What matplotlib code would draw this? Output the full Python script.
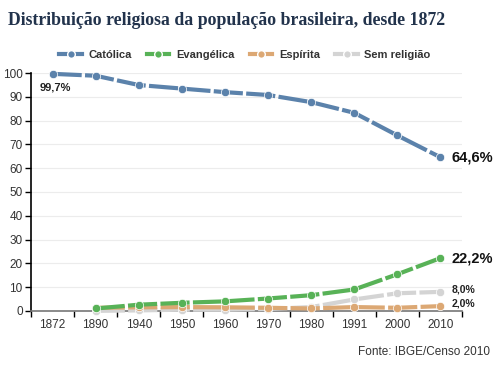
import numpy as np
import matplotlib
matplotlib.use("Agg")
import matplotlib.pyplot as plt
from matplotlib.lines import Line2D

# -------------------------
# Data
# -------------------------
anos = ["1872", "1890", "1940", "1950", "1960", "1970", "1980", "1991", "2000", "2010"]
catolica = [99.7, 98.9, 95.0, 93.5, 92.0, 90.8, 87.8, 83.3, 73.8, 64.6]
evangelica = [None, 1.0, 2.6, 3.4, 4.0, 5.2, 6.6, 9.0, 15.4, 22.2]
espirita = [None, 1.3, 1.5, 1.6, 1.5, 1.3, 1.0, 1.6, 1.3, 2.0]
sem_religiao = [None, 0.0, 0.2, 0.5, 0.5, 0.8, 1.6, 4.8, 7.4, 8.0]

series = [
    ("Católica", catolica, "#5b82ab"),
    ("Evangélica", evangelica, "#58b257"),
    ("Espírita", espirita, "#dca874"),
    ("Sem religião", sem_religiao, "#d4d4d4"),
]

plt.rcParams["font.family"] = ["Liberation Sans", "DejaVu Sans"]

fig = plt.figure(figsize=(5, 3.75), dpi=100)
ax = fig.add_axes([0.062, 0.171, 0.862, 0.634])

x = np.arange(len(anos))
dash = (7, 0.8)
# draw order: grey under the others, blue on top
order = [3, 2, 1, 0]
for i in order:
    name, vals, color = series[i]
    y = np.array([np.nan if v is None else v for v in vals], dtype=float)
    ax.plot(x, y, color=color, lw=3, dashes=dash, marker="o", markersize=6,
            markeredgecolor="white", markeredgewidth=0.5, clip_on=False,
            zorder=3 + (3 - i))

ax.set_xlim(-0.5, len(anos) - 0.5)
ax.set_ylim(0, 100)
ax.set_yticks(range(0, 101, 10))
ax.yaxis.grid(True, color="#ececec", lw=0.8)
ax.set_axisbelow(True)

# categorical labels centred, ticks on band boundaries
ax.set_xticks(x)
ax.set_xticklabels(anos)
ax.set_xticks(np.arange(-0.5, len(anos)), minor=True)
ax.tick_params(axis="x", which="major", length=0, labelsize=8.5, labelcolor="#333333", pad=6)
ax.tick_params(axis="x", which="minor", length=4, width=1, color="black", direction="out")
ax.tick_params(axis="y", length=4, width=1, labelsize=8.5, labelcolor="#333333", pad=2)

for s in ["top", "right"]:
    ax.spines[s].set_visible(False)
ax.spines["left"].set_color("black")
ax.spines["left"].set_linewidth(1.2)
ax.spines["bottom"].set_color("#777777")
ax.spines["bottom"].set_linewidth(1.2)

# value labels
ax.text(-0.3, 96.0, "99,7%", fontsize=8, fontweight="bold", color="#222222", va="top", ha="left")
ax.text(9.25, catolica[-1], "64,6%", fontsize=10.5, fontweight="bold", color="#111111", va="center", clip_on=False)
ax.text(9.25, evangelica[-1], "22,2%", fontsize=10.5, fontweight="bold", color="#111111", va="center", clip_on=False)
ax.text(9.25, sem_religiao[-1] + 1.2, "8,0%", fontsize=7.5, fontweight="bold", color="#222222", va="center", clip_on=False)
ax.text(9.25, espirita[-1] + 1.2, "2,0%", fontsize=7.5, fontweight="bold", color="#222222", va="center", clip_on=False)

# legend: short line, white-rimmed dot in the middle
handles = [Line2D([0], [0], color=c, lw=3, marker="o", markersize=5.5,
                  markeredgecolor="white", markeredgewidth=1.0) for _, _, c in series]
leg = fig.legend(handles, [s[0] for s in series], loc="center", bbox_to_anchor=(0.49, 0.853),
                 ncol=4, frameon=False, handlelength=2.0, handletextpad=0.6,
                 columnspacing=1.4, prop={"weight": "bold", "size": 8})
for t in leg.get_texts():
    t.set_color("#333333")

fig.text(0.016, 0.945, "Distribuição religiosa da população brasileira, desde 1872",
         fontsize=12.8, fontweight="bold", family="Liberation Serif", color="#22334c",
         ha="left", va="center")
fig.text(0.98, 0.062, "Fonte: IBGE/Censo 2010", fontsize=8.5, color="#333333", ha="right", va="center")

fig.savefig("out.png", dpi=100)
